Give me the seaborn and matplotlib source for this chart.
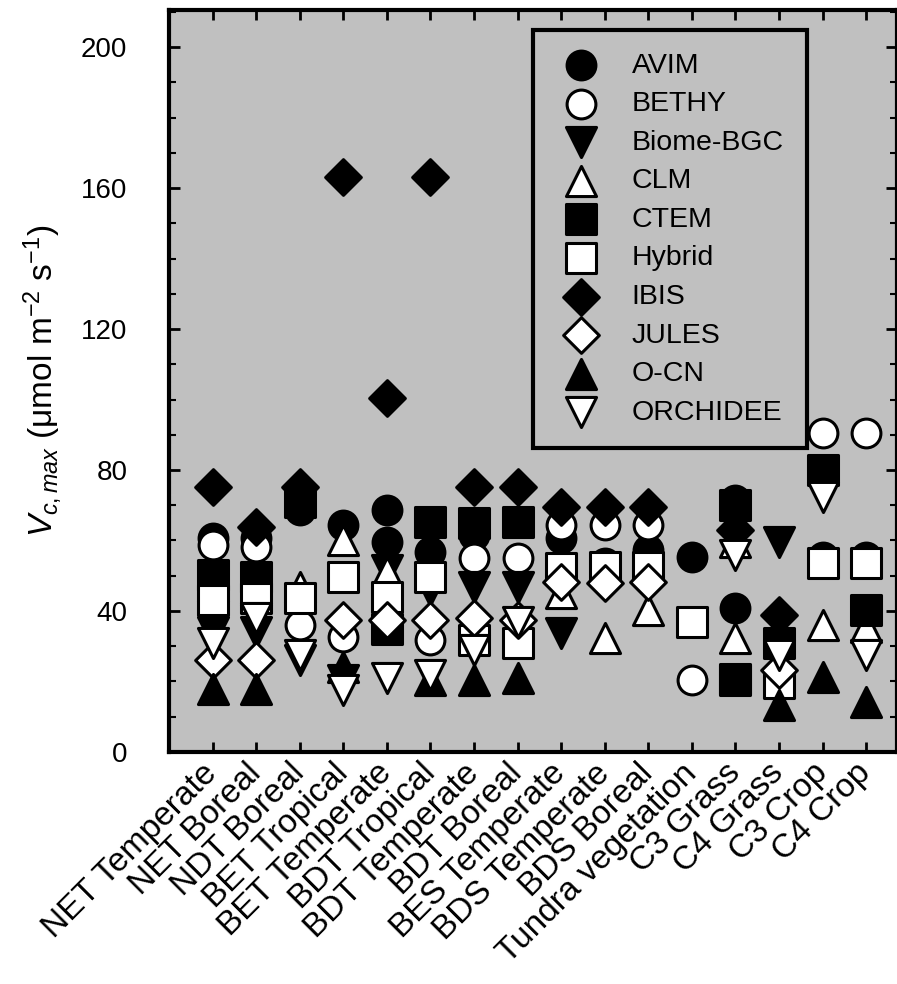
import numpy as np
import pandas as pd
import matplotlib
matplotlib.use("Agg")
import matplotlib.pyplot as plt
from matplotlib.ticker import MultipleLocator
import seaborn as sns

nan = np.nan

categories = ["NET Temperate", "NET Boreal", "NDT Boreal", "BET Tropical", "BET Temperate",
              "BDT Tropical", "BDT Temperate", "BDT Boreal", "BES Temperate", "BDS Temperate",
              "BDS Boreal", "Tundra vegetation", "C3 Grass", "C4 Grass", "C3 Crop", "C4 Crop"]

avim      = [60.6, 60.6, 68.7, 64.4, 68.7, 56.8, 61.5, nan, 60.6, 53.5, 57.3, 55.4, 71.5, nan, 55.4, 55.4]
bethy     = [58.7, 58.2, 36.0, 32.7, nan, 31.8, 55.0, 55.0, 64.4, 64.4, 64.4, 20.4, nan, nan, 90.4, 90.4]
biome_bgc = [34.0, 33.9, 26.0, 20.4, 51.5, 46.0, 46.9, 46.9, 33.7, nan, nan, nan, nan, 59.7, nan, nan]
clm       = [47.0, 46.0, 46.9, 60.1, 51.2, nan, nan, nan, 45.0, 32.3, 40.3, nan, 59.7, nan, 36.0, 35.5]
ctem      = [50.2, 49.7, 71.0, nan, 35.0, 65.3, 64.9, 65.3, nan, nan, nan, nan, 70.0, 31.0, 80.0, 40.3]
hybrid    = [43.1, 43.6, 43.6, 49.7, 44.0, 49.7, 31.8, 30.8, 52.1, 52.6, 52.6, 37.0, 20.8, 19.5, 53.5, 53.5]
ibis      = [75.3, 63.9, 75.3, 163.2, 100.3, 163.2, 75.3, 75.3, 69.6, 69.6, 69.6, nan, 63.0, 38.9, nan, nan]
jules     = [26.1, 26.1, nan, 37.4, 37.4, 37.4, 37.9, 37.4, 48.3, 47.9, 48.3, nan, nan, 23.3, nan, nan]
ocn       = [17.9, 17.9, nan, 24.2, nan, 20.4, 20.4, 20.9, nan, nan, nan, nan, nan, 13.3, 21.4, 14.3]
orchidee  = [30.8, 37.9, 27.5, 17.6, 20.9, 21.8, 28.9, 37.0, nan, nan, nan, nan, 55.9, 27.5, 72.4, 27.5]

# second entries reported by some models for the same vegetation class
avim_2 = [nan, nan, nan, nan, 59.7, nan, nan, nan, nan, nan, nan, nan, 40.8, nan, nan, nan]
clm_2  = [nan, nan, nan, nan, nan, nan, nan, nan, nan, nan, nan, nan, 32.3, nan, nan, nan]
ctem_2 = [nan, nan, nan, nan, nan, nan, nan, nan, nan, nan, nan, nan, 20.4, nan, nan, nan]

models = ["AVIM", "BETHY", "Biome-BGC", "CLM", "CTEM", "Hybrid", "IBIS", "JULES", "O-CN", "ORCHIDEE"]
series = [avim, bethy, biome_bgc, clm, ctem, hybrid, ibis, jules, ocn, orchidee]
markers = ["o", "o", "v", "^", "s", "s", "D", "D", "^", "v"]
faces = ["black", "white", "black", "white", "black", "white", "black", "white", "black", "white"]
extra = [("AVIM", avim_2), ("CLM", clm_2), ("CTEM", ctem_2)]

sns.set_style("ticks")
plt.rcParams["font.family"] = ["Liberation Sans", "DejaVu Sans"]
plt.rcParams["mathtext.fontset"] = "custom"
plt.rcParams["mathtext.rm"] = "Liberation Sans"
plt.rcParams["mathtext.it"] = "Liberation Sans:italic"
plt.rcParams["text.color"] = "black"
plt.rcParams["axes.labelcolor"] = "black"
plt.rcParams["xtick.color"] = "black"
plt.rcParams["ytick.color"] = "black"

fig = plt.figure(figsize=(8.97, 9.84), dpi=100)
ax = fig.add_axes([0.1884, 0.2358, 0.8116, 0.754])
ax.set_facecolor("#c0c0c0")

xpos = np.arange(len(categories))
base_size = {"o": 430, "s": 480, "D": 330, "^": 470, "v": 470}

for name, vals, mk, fc in zip(models, series, markers, faces):
    df = pd.DataFrame({"x": xpos, "y": vals}).dropna()
    sns.scatterplot(data=df, x="x", y="y", marker=mk, s=base_size[mk], color=fc,
                    edgecolor="black", linewidth=2.2, ax=ax, label=name, zorder=3)

for name, vals in extra:
    i = models.index(name)
    df = pd.DataFrame({"x": xpos, "y": vals}).dropna()
    sns.scatterplot(data=df, x="x", y="y", marker=markers[i], s=base_size[markers[i]],
                    color=faces[i], edgecolor="black", linewidth=2.2, ax=ax,
                    legend=False, zorder=3)

ax.set_xlim(-1.0, 15.71)
ax.set_ylim(0, 210.5)
ax.set_xticks(xpos)
ax.set_xticklabels(categories, rotation=45, ha="right", va="center",
                   rotation_mode="anchor", fontsize=24, color="black")
ax.yaxis.set_major_locator(MultipleLocator(40))
ax.yaxis.set_minor_locator(MultipleLocator(10))
ax.tick_params(axis="y", which="major", direction="in", length=8, width=2,
               labelsize=20, pad=30, right=True)
ax.tick_params(axis="y", which="minor", direction="in", length=5, width=1.5, right=True)
ax.tick_params(axis="x", which="major", direction="in", length=7, width=2,
               top=True, pad=12)
ax.set_xlabel("")
ax.set_ylabel(r"$V_{c,max}$ (μmol m$^{-2}$ s$^{-1}$)", fontsize=24, labelpad=12)

for sp in ax.spines.values():
    sp.set_linewidth(3)
    sp.set_color("black")

leg = ax.legend(loc="upper right", bbox_to_anchor=(0.876, 0.9730), borderaxespad=0,
                fontsize=20.5, frameon=True, fancybox=False, framealpha=1,
                borderpad=0.8, handlelength=1.75, handletextpad=0.92, labelspacing=0.44)
leg.get_frame().set_edgecolor("black")
leg.get_frame().set_linewidth(3)
leg.get_frame().set_facecolor("#c0c0c0")
for t in leg.get_texts():
    t.set_color("black")

fig.savefig("out.png", dpi=100)
